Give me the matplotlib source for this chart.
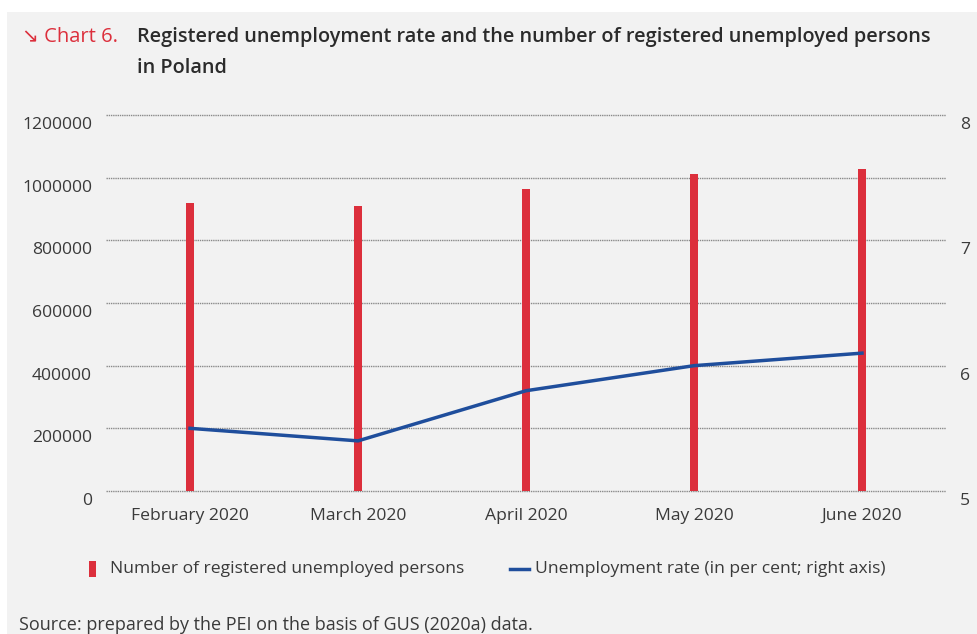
import matplotlib.pyplot as plt
import matplotlib.transforms as mtransforms
from matplotlib.patches import Rectangle

months = ['February 2020', 'March 2020', 'April 2020', 'May 2020', 'June 2020']
unemployed = [919000, 909100, 965300, 1012700, 1027100]
rate = [5.5, 5.4, 5.8, 6.0, 6.1]
left_ticks = [0, 200000, 400000, 600000, 800000, 1000000, 1200000]
right_ticks = [5, 6, 7, 8]

red = '#dc2f3c'
blue = '#1f4e9c'
txt = '#3a3a3a'
fam = ['Open Sans', 'DejaVu Sans']
plt.rcParams['font.family'] = fam

fig = plt.figure(figsize=(9.78, 6.34), dpi=100, facecolor='white')
fig.patches.append(Rectangle((7 / 978, 0), 1, 1 - 12 / 634,
                             transform=fig.transFigure, facecolor='#f2f2f2',
                             edgecolor='none', zorder=-10))

ax = fig.add_axes([106 / 978, 1 - 491 / 634, 840 / 978, 376 / 634])
ax.set_facecolor('none')
x = range(len(months))
ax.bar(x, unemployed, width=0.042, color=red, zorder=3)
ax.set_xlim(-0.5, 4.5)
ax.set_ylim(0, 1200000)
ax.set_yticks(left_ticks)
ax.set_yticklabels([str(v) for v in left_ticks])
ax.set_xticks(list(x))
ax.set_xticklabels(months)
ax.grid(axis='y', color='#8a8a8a', linestyle=(0, (1, 0.6)), linewidth=1.0, zorder=0)
for gl in ax.get_ygridlines():
    gl.set_clip_on(False)
for s in ax.spines.values():
    s.set_visible(False)
ax.tick_params(length=0, labelsize=12.6, labelcolor=txt)
ax.tick_params(axis='y', pad=10)
ax.tick_params(axis='x', pad=12)

ax2 = ax.twinx()
ax2.plot(list(x), rate, color=blue, linewidth=2.5, zorder=4)
ax2.set_ylim(5, 8)
ax2.set_yticks(right_ticks)
for s in ax2.spines.values():
    s.set_visible(False)
ax2.tick_params(length=0, labelsize=12.6, labelcolor=txt, pad=10)

off = mtransforms.ScaledTranslation(0, -8 / 100, fig.dpi_scale_trans)
for lab in ax.get_yticklabels() + ax2.get_yticklabels():
    lab.set_transform(lab.get_transform() + off)

# title
fig.text(22 / 978, 1 - 37 / 634, '\u2198 Chart 6.', color=red, fontsize=14.5,
         va='center', ha='left', family=fam)
fig.text(137 / 978, 1 - 37 / 634,
         'Registered unemployment rate and the number of registered unemployed persons',
         color='#2b2b2b', fontsize=14.3, fontweight='semibold', va='center', ha='left')
fig.text(137 / 978, 1 - 68 / 634, 'in Poland', color='#2b2b2b', fontsize=14.3,
         fontweight='semibold', va='center', ha='left')

# legend
fig.patches.append(Rectangle((89 / 978, 1 - 577 / 634), 7 / 978, 16 / 634,
                             transform=fig.transFigure, facecolor=red, edgecolor='none'))
fig.text(110 / 978, 1 - 569 / 634, 'Number of registered unemployed persons',
         color=txt, fontsize=12.6, va='center', ha='left')
fig.lines.append(plt.Line2D([510 / 978, 529 / 978], [1 - 569 / 634, 1 - 569 / 634],
                            transform=fig.transFigure, color=blue, linewidth=2.5))
fig.text(535 / 978, 1 - 569 / 634, 'Unemployment rate (in per cent; right axis)',
         color=txt, fontsize=12.6, va='center', ha='left')

fig.text(19 / 978, 1 - 625 / 634, 'Source: prepared by the PEI on the basis of GUS (2020a) data.',
         color=txt, fontsize=13, va='center', ha='left')

fig.savefig('out.png', dpi=100, facecolor='white')
